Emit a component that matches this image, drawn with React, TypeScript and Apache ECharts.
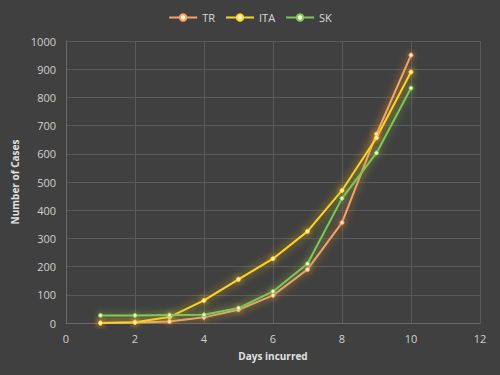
import React, { useEffect, useRef } from "react";
import * as echarts from "echarts";

const days = [1, 2, 3, 4, 5, 6, 7, 8, 9, 10];
const trValues = [0, 2, 5, 20, 47, 98, 190, 356, 670, 950];
const itaValues = [0, 3, 21, 80, 155, 228, 325, 470, 657, 890];
const skValues = [27, 27, 28, 29, 53, 112, 210, 442, 603, 833];
const seriesNames = ["TR", "ITA", "SK"];

export default function App() {
  const ref = useRef<HTMLDivElement>(null);
  useEffect(() => {
    const chart = echarts.init(ref.current!, undefined, { renderer: "svg" });
    const mk = (name: string, vals: number[], color: string, glow: string) => ({
      name,
      type: "line",
      data: days.map((d, i) => [d, vals[i]]),
      symbol: "circle",
      symbolSize: 4,
      lineStyle: { color, width: 2, shadowColor: glow, shadowBlur: 8 },
      itemStyle: { color: "#fff3d0", borderColor: color, borderWidth: 1, shadowColor: glow, shadowBlur: 6 },
    });
    chart.setOption({
      animation: false,
      backgroundColor: "#404040",
      textStyle: { fontFamily: "Open Sans, sans-serif" },
      legend: {
        top: 7,
        left: "center",
        itemWidth: 28,
        itemHeight: 8,
        itemGap: 10,
        textStyle: { color: "#d9d9d9", fontSize: 11 },
        data: seriesNames,
      },
      grid: { left: 66, right: 20, top: 41, bottom: 52 },
      xAxis: {
        type: "value",
        min: 0,
        max: 12,
        interval: 2,
        name: "Days incurred",
        nameLocation: "middle",
        nameGap: 28,
        nameTextStyle: { color: "#e0e0e0", fontWeight: "bold", fontSize: 10 },
        axisLine: { show: true, lineStyle: { color: "#6a6a6a" } },
        axisTick: { show: false },
        axisLabel: { color: "#d0d0d0", fontSize: 11, margin: 10 },
        splitLine: { show: true, lineStyle: { color: "#5a5a5a" } },
      },
      yAxis: {
        type: "value",
        min: 0,
        max: 1000,
        interval: 100,
        name: "Number of Cases",
        nameLocation: "middle",
        nameGap: 33,
        nameTextStyle: { color: "#e0e0e0", fontWeight: "bold", fontSize: 10 },
        axisLine: { show: true, lineStyle: { color: "#6a6a6a" } },
        axisTick: { show: false },
        axisLabel: { color: "#d0d0d0", fontSize: 11, margin: 10, formatter: (v: number) => String(v) },
        splitLine: { show: true, lineStyle: { color: "#5a5a5a" } },
      },
      series: [
        mk("TR", trValues, "#f4a46a", "rgba(237,125,49,0.9)"),
        mk("ITA", itaValues, "#ffd42a", "rgba(255,192,0,0.9)"),
        mk("SK", skValues, "#7cc95a", "rgba(112,173,71,0.9)"),
      ],
    });
    return () => chart.dispose();
  }, []);
  return (
    <div
      ref={ref}
      style={{ position: "fixed", left: 0, top: 0, width: 500, height: 375 }}
    />
  );
}
